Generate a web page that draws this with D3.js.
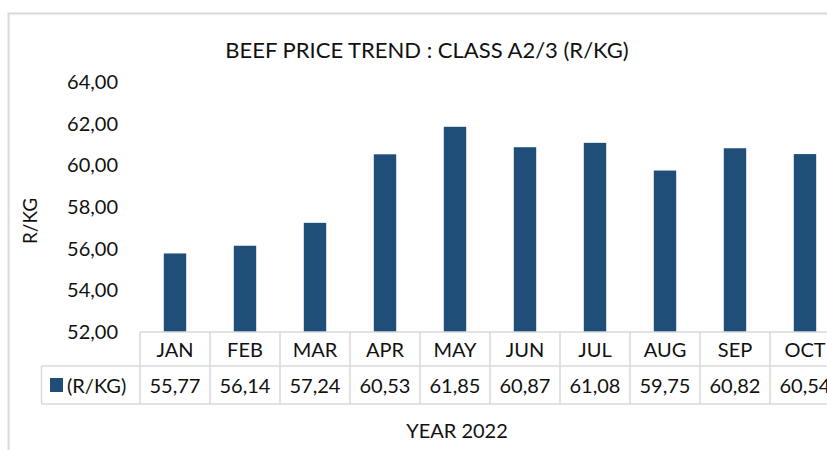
<!DOCTYPE html>
<html>
<head>
<meta charset="utf-8">
<script src="https://cdn.jsdelivr.net/npm/d3@7"></script>
<style>
  body { margin: 0; background: #fff; }
  text { font-family: Lato, "Open Sans", sans-serif; fill: #111; }
</style>
</head>
<body>
<div id="chart"></div>
<script>
// data
let months = ["JAN", "FEB", "MAR", "APR", "MAY", "JUN", "JUL", "AUG", "SEP", "OCT"];
let prices = [55.77, 56.14, 57.24, 60.53, 61.85, 60.87, 61.08, 59.75, 60.82, 60.54];
let yTicks = [52, 54, 56, 58, 60, 62, 64];
let seriesName = "(R/KG)";

let W = 827, H = 450;
let gridColor = "#d9d9d9";
let barColor = "#1f4e79";

let locale = d3.formatLocale({decimal: ",", thousands: " ", grouping: [3], currency: ["", ""]});
let fmt = locale.format(".2f");

let svg = d3.select("#chart").append("svg").attr("width", W).attr("height", H);

// chart frame (cut by the picture edge on right and bottom)
svg.append("rect")
  .attr("x", 8.5).attr("y", 13.5)
  .attr("width", 900).attr("height", 600)
  .attr("fill", "none").attr("stroke", gridColor).attr("stroke-width", 2);

let plotTop = 82, plotBottom = 332;
let colLeft = 140, colStep = 70;

let x = d3.scaleBand()
  .domain(months)
  .range([colLeft, colLeft + colStep * months.length])
  .paddingInner(0.68)
  .paddingOuter(0.34);

let cell = d3.scaleBand()
  .domain(months)
  .range([colLeft, colLeft + colStep * months.length]);

let y = d3.scaleLinear()
  .domain([52, 64])
  .range([plotBottom, plotTop]);

// title
svg.append("text")
  .attr("x", 427).attr("y", 58)
  .attr("text-anchor", "middle")
  .attr("font-size", 22)
  .text("BEEF PRICE TREND : CLASS A2/3 (R/KG)");

// y axis
let yAxis = svg.append("g")
  .attr("transform", "translate(118,0)")
  .call(d3.axisLeft(y).tickValues(yTicks).tickFormat(fmt).tickSize(0).tickPadding(0));
yAxis.select(".domain").remove();
yAxis.selectAll("text")
  .attr("font-size", 20)
  .attr("font-family", "Lato, 'Open Sans', sans-serif")
  .attr("fill", "#111");

svg.append("text")
  .attr("transform", "translate(37,221) rotate(-90)")
  .attr("text-anchor", "middle")
  .attr("font-size", 19)
  .text("R/KG");

// bars
svg.append("g").selectAll("rect")
  .data(prices)
  .enter().append("rect")
  .attr("x", (d, i) => x(months[i]))
  .attr("y", d => y(d))
  .attr("width", x.bandwidth())
  .attr("height", d => y(52) - y(d))
  .attr("fill", barColor);

// data table
let row1Top = 332, row1Bot = 366, row2Bot = 404, legendLeft = 41.5;
let table = svg.append("g")
  .attr("stroke", gridColor).attr("stroke-width", 1.5).attr("fill", "none");

table.append("line").attr("x1", colLeft).attr("x2", W + 20).attr("y1", row1Top).attr("y2", row1Top);
table.append("line").attr("x1", legendLeft).attr("x2", W + 20).attr("y1", row1Bot).attr("y2", row1Bot);
table.append("line").attr("x1", legendLeft).attr("x2", W + 20).attr("y1", row2Bot).attr("y2", row2Bot);
table.append("line").attr("x1", legendLeft).attr("x2", legendLeft).attr("y1", row1Bot).attr("y2", row2Bot);
table.selectAll("line.col")
  .data(months.concat(["end"]))
  .enter().append("line")
  .attr("class", "col")
  .attr("x1", (d, i) => colLeft + i * cell.step())
  .attr("x2", (d, i) => colLeft + i * cell.step())
  .attr("y1", row1Top).attr("y2", row2Bot);

svg.append("g").selectAll("text")
  .data(months)
  .enter().append("text")
  .attr("x", d => cell(d) + cell.bandwidth() / 2)
  .attr("y", 357)
  .attr("text-anchor", "middle")
  .attr("font-size", 20)
  .text(d => d);

svg.append("g").selectAll("text")
  .data(prices)
  .enter().append("text")
  .attr("x", (d, i) => cell(months[i]) + cell.bandwidth() / 2)
  .attr("y", 393)
  .attr("text-anchor", "middle")
  .attr("font-size", 20)
  .text(d => fmt(d));

svg.append("rect")
  .attr("x", 50).attr("y", 378).attr("width", 13).attr("height", 14)
  .attr("fill", barColor);
svg.append("text")
  .attr("x", 67).attr("y", 393)
  .attr("font-size", 20)
  .text(seriesName);

// x axis title
svg.append("text")
  .attr("x", 457).attr("y", 438)
  .attr("text-anchor", "middle")
  .attr("font-size", 20)
  .text("YEAR 2022");
</script>
</body>
</html>
